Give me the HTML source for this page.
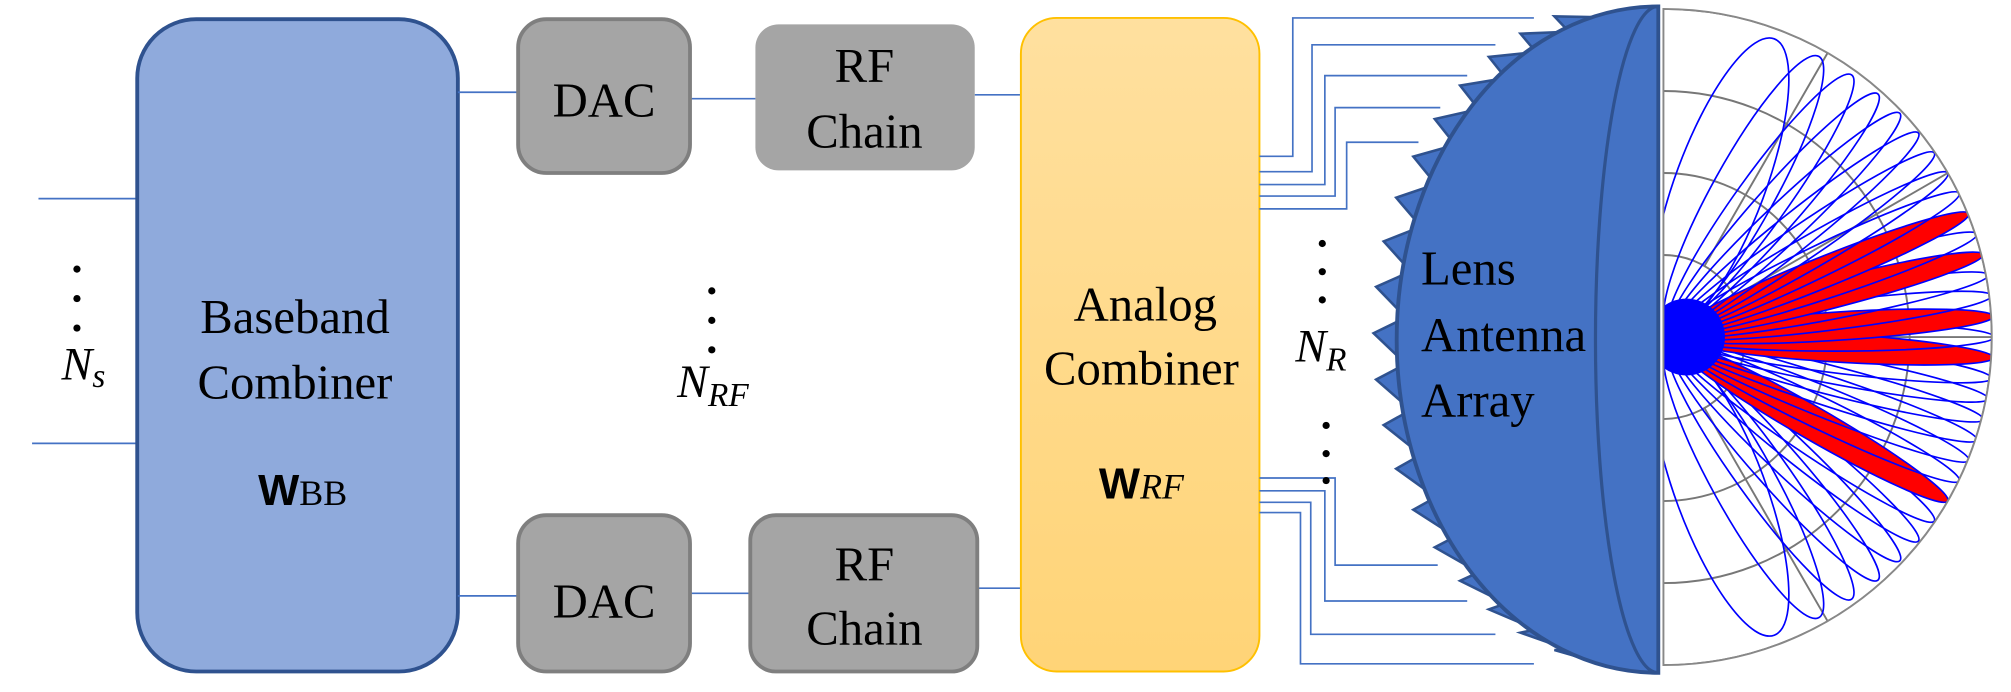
<!DOCTYPE html>
<html><head><meta charset="utf-8"><style>
html,body{margin:0;padding:0;background:#fff;}
svg{display:block;}
text{font-family:"Liberation Serif",serif;fill:#000;}
.ln{stroke:#4472C4;stroke-width:1.3;fill:none;}
</style></head><body>
<svg id="s" width="2011" height="692" viewBox="0 0 1568 540" preserveAspectRatio="none" xmlns="http://www.w3.org/2000/svg">
<defs>
<linearGradient id="g" x1="0" y1="0" x2="0" y2="1"><stop offset="0" stop-color="#FFE09F"/><stop offset="1" stop-color="#FFD477"/></linearGradient>
<clipPath id="pc"><path d="M1297,7 A256,256 0 0 1 1297,519 Z"/></clipPath>
</defs>
<line class="ln" x1="30" y1="155" x2="107" y2="155"/>
<line class="ln" x1="25" y1="346" x2="107" y2="346"/>
<circle cx="60" cy="210" r="2.8"/><circle cx="60" cy="233" r="2.8"/><circle cx="60" cy="256" r="2.8"/>
<text x="48" y="296" font-size="36" font-style="italic">N<tspan font-size="26" dy="6">s</tspan></text>
<rect x="107" y="15" width="250" height="509" rx="46" fill="#8FAADC" stroke="#2F528F" stroke-width="3"/>
<text x="230" y="260" font-size="38" text-anchor="middle">Baseband</text>
<text x="230" y="311" font-size="38" text-anchor="middle">Combiner</text>
<text x="236" y="394" font-size="40" text-anchor="middle"><tspan font-weight="bold" font-family="Liberation Sans" font-size="34">W</tspan><tspan font-size="28">BB</tspan></text>
<line class="ln" x1="357" y1="72" x2="404" y2="72"/>
<line class="ln" x1="538" y1="77" x2="589" y2="77"/>
<line class="ln" x1="760" y1="74" x2="796" y2="74"/>
<line class="ln" x1="357" y1="465" x2="404" y2="465"/>
<line class="ln" x1="538" y1="463" x2="585" y2="463"/>
<line class="ln" x1="762" y1="459" x2="796" y2="459"/>
<rect x="404" y="15" width="134" height="120" rx="22" fill="#A5A5A5" stroke="#7F7F7F" stroke-width="3"/>
<text x="471" y="91" font-size="38" text-anchor="middle">DAC</text>
<rect x="589" y="19" width="171" height="114" rx="18" fill="#A5A5A5"/>
<text x="674" y="64" font-size="38" text-anchor="middle">RF</text>
<text x="674" y="115" font-size="38" text-anchor="middle">Chain</text>
<rect x="404" y="402" width="134" height="122" rx="22" fill="#A5A5A5" stroke="#7F7F7F" stroke-width="3"/>
<text x="471" y="482" font-size="38" text-anchor="middle">DAC</text>
<rect x="585" y="402" width="177" height="122" rx="20" fill="#A5A5A5" stroke="#7F7F7F" stroke-width="3"/>
<text x="674" y="453" font-size="38" text-anchor="middle">RF</text>
<text x="674" y="503" font-size="38" text-anchor="middle">Chain</text>
<circle cx="555" cy="227" r="2.8"/><circle cx="555" cy="250" r="2.8"/><circle cx="555" cy="273" r="2.8"/>
<text x="528" y="310" font-size="36" font-style="italic">N<tspan font-size="26" dy="7">RF</tspan></text>
<rect x="796" y="14" width="186" height="510" rx="28" fill="url(#g)" stroke="#FFC000" stroke-width="1.5"/>
<text x="893" y="250" font-size="38" text-anchor="middle">Analog</text>
<text x="890" y="300" font-size="38" text-anchor="middle">Combiner</text>
<text x="890" y="389" font-size="40" text-anchor="middle"><tspan font-weight="bold" font-family="Liberation Sans" font-size="34">W</tspan><tspan font-size="28" font-style="italic">RF</tspan></text>
<g class="ln">
<polyline points="982,122 1008,122 1008,14 1196,14"/>
<polyline points="982,134 1023,134 1023,35 1166,35"/>
<polyline points="982,144 1033,144 1033,59 1144,59"/>
<polyline points="982,153 1041,153 1041,84 1123,84"/>
<polyline points="982,163 1050,163 1050,111 1106,111"/>
<polyline points="982,373 1041,373 1041,441 1121,441"/>
<polyline points="982,383 1033,383 1033,469 1144,469"/>
<polyline points="982,392 1022,392 1022,495 1166,495"/>
<polyline points="982,400 1014,400 1014,518 1196,518"/>
</g>
<circle cx="1031" cy="190" r="2.8"/><circle cx="1031" cy="212" r="2.8"/><circle cx="1031" cy="234" r="2.8"/>
<circle cx="1034" cy="332" r="2.8"/><circle cx="1034" cy="354" r="2.8"/><circle cx="1034" cy="375" r="2.8"/>
<text x="1010" y="282" font-size="36" font-style="italic">N<tspan font-size="26" dy="7">R</tspan></text>
<g id="teeth" fill="#4472C4" stroke="#2F528F" stroke-width="2"></g>
<path d="M1293,5 A204,260 0 0 0 1293,525 Z" fill="#4472C4" stroke="#2F528F" stroke-width="3"/>
<path d="M1293,5 A49,260 0 0 0 1293,525" fill="none" stroke="#2F528F" stroke-width="2.5"/>
<text x="1108" y="222" font-size="38">Lens</text>
<text x="1108" y="274" font-size="38">Antenna</text>
<text x="1108" y="325" font-size="38">Array</text>
<g clip-path="url(#pc)">
<rect x="1297" y="7" width="260" height="512" fill="#fff"/>
<g id="grid" fill="none" stroke="#777" stroke-width="1.5"></g>
<g id="lobes"></g>
</g>
<path d="M1297,7 A256,256 0 0 1 1297,519 Z" fill="none" stroke="#888" stroke-width="1.5"/>
</svg>
<script>
var NS="http://www.w3.org/2000/svg";
function el(p,t,a){var e=document.createElementNS(NS,t);for(var k in a)e.setAttribute(k,a[k]);p.appendChild(e);return e;}
var cx=1297,cy=263;
var grid=document.getElementById('grid');
[64,128,192,256].forEach(function(r){el(grid,'circle',{cx:cx,cy:cy,r:r});});
for(var a=-60;a<=60;a+=30){var t=a*Math.PI/180;el(grid,'line',{x1:cx+64*Math.cos(t),y1:cy-64*Math.sin(t),x2:cx+260*Math.cos(t),y2:cy-260*Math.sin(t)});}
var lobes=document.getElementById('lobes');
var reds=[6,4,1,-1,-8];
for(var k=-15;k<=15;k++){
  var th=Math.asin(k/16)*180/Math.PI;
  var c=Math.cos(th*Math.PI/180);
  var L=250-(1-c)*15, w=Math.min(50,11/Math.pow(c,1.1));
  var isRed=reds.indexOf(k)>=0;
  var d=8+L/2, tr=th*Math.PI/180;
  var ex=cx+d*Math.cos(tr), ey=cy-d*Math.sin(tr);
  el(lobes,'ellipse',{cx:ex,cy:ey,rx:L/2,ry:w,transform:'rotate('+(-th)+' '+ex+' '+ey+')',fill:isRed?'#ff0000':'none',stroke:'#0000ff','stroke-width':1.3});
}
el(lobes,'circle',{cx:cx+18,cy:cy,r:30,fill:'#0000ff'});
var teeth=document.getElementById('teeth');
function pt(p){return [1293-204*Math.cos(p),265+260*Math.sin(p)];}
for(var i=0;i<19;i++){
  var phi=(-72+i*(144/18))*Math.PI/180, dl=3.4*Math.PI/180;
  var a1=pt(phi-dl),a2=pt(phi+dl),m=pt(phi);
  var tip=[m[0]-18, m[1]-5];
  el(teeth,'polygon',{points:(a1[0]+3)+','+a1[1]+' '+tip[0]+','+tip[1]+' '+(a2[0]+3)+','+a2[1]});
}
</script>
</body></html>
